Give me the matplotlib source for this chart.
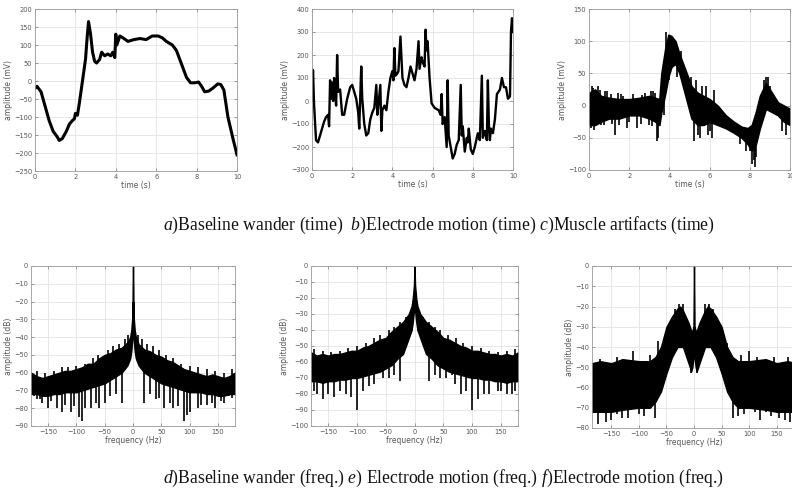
import numpy as np
import matplotlib
matplotlib.use("Agg")
import matplotlib.pyplot as plt

plt.rcParams['font.family'] = ['DejaVu Sans']
plt.rcParams['mathtext.fontset'] = 'custom'
plt.rcParams['mathtext.rm'] = 'Liberation Serif'
plt.rcParams['mathtext.it'] = 'Liberation Serif:italic'

# ---- a) baseline wander (time) ----
bw_t = [0, 0.1, 0.3, 0.5, 0.7, 0.9, 1.1, 1.2, 1.35, 1.55, 1.7, 1.85, 1.95, 2.0, 2.1,
        2.2, 2.35, 2.45, 2.5, 2.58, 2.65, 2.75, 2.85, 2.95, 3.05, 3.2, 3.3, 3.45, 3.6,
        3.75, 3.85, 3.95, 4.0, 4.05, 4.2, 4.35, 4.6, 4.9, 5.2, 5.5, 5.8, 6.1, 6.3, 6.5,
        6.8, 7.0, 7.3, 7.5, 7.7, 7.9, 8.1, 8.25, 8.4, 8.6, 8.8, 9.05, 9.2, 9.35, 9.55,
        9.8, 10.0]
bw_v = [-20, -15, -30, -70, -110, -140, -155, -165, -160, -140, -120, -110, -105, -90, -95,
        -60, 0, 40, 60, 120, 165, 130, 80, 55, 50, 60, 80, 70, 75,
        70, 80, 65, 130, 100, 125, 120, 110, 115, 118, 115, 125, 125, 120, 110,
        100, 85, 40, 10, -5, -5, -3, -15, -30, -28, -20, -8, -10, -25, -100,
        -160, -205]

# ---- b) electrode motion (time) ----
em_t = [0, 0.05, 0.1, 0.2, 0.3, 0.4, 0.5, 0.6, 0.7, 0.8, 0.85, 0.9, 0.95, 1.0, 1.05,
        1.1, 1.15, 1.2, 1.25, 1.3, 1.4, 1.5, 1.6, 1.75, 1.9, 2.0, 2.1, 2.2, 2.3, 2.35,
        2.45, 2.5, 2.6, 2.7, 2.8, 2.9, 3.0, 3.1, 3.2, 3.25, 3.3, 3.4, 3.45, 3.5, 3.6,
        3.7, 3.8, 3.9, 4.0, 4.05, 4.1, 4.15, 4.25, 4.3, 4.4, 4.5, 4.6, 4.7, 4.8, 4.9,
        5.0, 5.1, 5.2, 5.3, 5.35, 5.45, 5.5, 5.6, 5.65, 5.7, 5.75, 5.85, 5.95, 6.1, 6.3,
        6.4, 6.45, 6.5, 6.6, 6.7, 6.75, 6.8, 6.9, 7.0, 7.1, 7.2, 7.3, 7.4, 7.45, 7.5,
        7.6, 7.7, 7.75, 7.8, 7.9, 8.0, 8.1, 8.25, 8.35, 8.45, 8.5, 8.6, 8.7, 8.75, 8.8,
        8.85, 8.9, 9.0, 9.1, 9.2, 9.35, 9.45, 9.55, 9.65, 9.75, 9.85, 9.9, 9.95, 10.0]
em_v = [0, 135, -10, -170, -180, -150, -120, -90, -70, -60, -110, 90, 10, 80, 0,
        100, 30, -20, 200, 40, 50, -60, -60, 10, 60, 70, 40, 10, -50, -120,
        150, 10, -100, -150, -140, -80, -50, -30, 70, -60, -20, 70, -130, -40, -20,
        -40, 40, 100, 130, 90, 230, 110, 120, 130, 280, 100, 70, 60, 100, 150,
        120, 90, 140, 260, 140, 190, 170, 150, 310, 220, 260, 100, -10, -30, -40,
        -60, 30, -100, -70, -200, 90, -150, -200, -250, -230, -190, -170, 70, -150, -110,
        -220, -160, -180, -120, -210, -230, -200, -140, -170, 110, -160, -130, -170, 90, -100,
        -170, -120, -140, -80, 30, 50, 100, 60, 60, 10, 20, 300, 360, 300]

# ---- c) muscle artifacts (time): noisy band + spikes ----
ma_t = [0, 0.3, 0.6, 1.0, 1.5, 2.0, 2.5, 3.0, 3.3, 3.5, 3.6, 3.8, 3.95, 4.1, 4.3,
        4.5, 4.8, 5.1, 5.4, 5.7, 6.0, 6.4, 6.8, 7.2, 7.6, 7.9, 8.1, 8.3, 8.5, 8.8,
        9.1, 9.4, 9.7, 10.0]
ma_hi = [20, 25, 15, 12, 10, 10, 12, 15, 12, 10, 50, 90, 110, 108, 100,
         80, 55, 30, 20, 15, 10, 0, -15, -25, -33, -35, -30, -10, 15, 35,
         20, 5, 0, -5]
ma_lo = [-30, -30, -25, -20, -20, -15, -15, -20, -25, -30, -10, 20, 45, 60, 65,
         50, 15, -20, -30, -30, -25, -30, -35, -42, -50, -60, -70, -60, -35, -5,
         -10, -15, -25, -30]
ma_spk_t = [0.1, 0.15, 0.2, 0.25, 0.45, 0.55, 0.6, 0.75, 0.8, 0.9, 1.1, 1.15, 1.3, 1.45,
            1.5, 1.6, 1.7, 1.9, 2.0, 2.2, 2.4, 2.6, 2.65, 2.8, 3.0, 3.1, 3.15, 3.2,
            3.3, 3.4, 3.45, 3.75, 3.85, 4.0, 4.4, 4.6, 5.05, 5.2, 5.3, 5.4, 5.5, 5.6,
            5.8, 5.9, 6.0, 6.1, 6.2, 7.5, 7.8, 7.95, 8.0, 8.1, 8.2, 8.25, 8.3, 8.7,
            8.8, 8.9, 9.0, 9.6, 9.8]
ma_spk_v = [-35, 30, 28, -38, 30, 25, -30, -30, 22, 22, 18, -28, -45, 20,
            -30, 18, 15, -35, -25, 18, -35, -28, 17, 20, -30, 22, -32, 22,
            20, -55, -50, -15, 115, 40, 45, 85, 45, -55, 40, -45, -50, 30,
            30, -45, -40, -50, 25, -60, -70, -55, -70, -90, -85, -95, -80, 40,
            45, 45, 30, -40, -45]

# ---- d) baseline wander (freq.) ----
d_f = [-180, -170, -160, -150, -140, -130, -120, -110, -100, -90, -80, -70, -60, -50,
       -40, -30, -20, -10, -5, -3, -1, -0.5, 0, 0.5, 1, 3, 5, 10, 20, 30, 40, 50, 60,
       70, 80, 90, 100, 110, 120, 130, 140, 150, 160, 170, 180]
d_hi = [-60, -62, -63, -62, -61, -60, -59, -59, -58, -57, -55, -55, -52, -50,
        -49, -47, -46, -43, -40, -36, -28, -10, 0, -10, -28, -36, -40, -44, -47, -48, -50, -51, -53,
        -54, -56, -58, -59, -60, -61, -62, -61, -62, -63, -62, -60]
d_lo = [-72, -72, -73, -73, -72, -72, -71, -71, -71, -70, -69, -68, -67, -66,
        -64, -62, -60, -56, -52, -48, -40, -30, -20, -30, -40, -48, -52, -56, -60, -62, -64, -66, -67,
        -68, -69, -70, -71, -71, -71, -72, -72, -73, -73, -72, -72]
d_spk_f = [-175, -170, -165, -160, -150, -145, -135, -125, -120, -110, -105, -95, -90, -85,
           -75, -65, -60, -50, -40, -30, -20, 20, 30, 40, 45, 55, 65, 70, 80, 90,
           95, 100, 115, 120, 130, 140, 145, 155, 160, 170, 175,
           -170, -155, -140, -125, -115, -100, -85, -70, -62, -45, -35, -25, -15, -8,
           8, 15, 25, 35, 45, 58, 70, 85, 100, 115, 130, 145, 160, 175]
d_spk_v = [-73, -75, -75, -77, -80, -76, -80, -82, -78, -82, -79, -85, -87, -80,
           -80, -77, -80, -77, -73, -72, -77, -77, -72, -75, -74, -80, -77, -80, -79, -87,
           -84, -82, -80, -78, -78, -77, -80, -76, -77, -73, -74,
           -59, -60, -59, -57, -57, -56, -55, -52, -50, -47, -45, -44, -41, -39,
           -39, -41, -44, -45, -47, -50, -52, -55, -56, -57, -58, -59, -60, -58]

# ---- e) electrode motion (freq.) ----
e_f = [-180, -170, -160, -150, -140, -130, -120, -110, -100, -90, -80, -70, -60, -50,
       -40, -30, -20, -10, -5, -3, -1, 0, 1, 3, 5, 10, 20, 30, 40, 50, 60, 70, 80,
       90, 100, 110, 120, 130, 140, 150, 160, 170, 180]
e_hi = [-54, -56, -55, -56, -55, -55, -54, -53, -53, -51, -50, -48, -46, -45,
        -41, -38, -35, -30, -25, -20, -12, 0, -12, -20, -25, -30, -35, -38, -41, -45, -46, -48, -50,
        -51, -53, -53, -54, -55, -55, -56, -55, -56, -54]
e_lo = [-72, -72, -73, -72, -72, -71, -71, -70, -70, -69, -68, -67, -66, -64,
        -62, -58, -55, -45, -40, -35, -28, -20, -28, -35, -40, -45, -55, -58, -62, -64, -66, -67, -68,
        -69, -70, -70, -71, -71, -72, -72, -73, -72, -72]
e_spk_f = [-175, -170, -160, -150, -140, -130, -120, -110, -100, -90, -80, -70, -55, -45,
           -35, -25, 25, 35, 45, 55, 65, 70, 80, 90, 100, 110, 120, 130, 145, 150,
           160, 170, 175,
           -175, -160, -145, -130, -115, -100, -85, -70, -60, -45, -35, -25, -15,
           15, 25, 35, 45, 58, 72, 85, 100, 115, 130, 145, 160, 175]
e_spk_v = [-78, -80, -83, -80, -82, -78, -80, -82, -90, -78, -75, -74, -70, -70,
           -68, -72, -72, -68, -70, -70, -68, -74, -80, -78, -90, -83, -80, -80, -78, -78,
           -80, -80, -78,
           -52, -53, -54, -53, -51, -50, -48, -45, -43, -40, -38, -35, -32,
           -32, -35, -38, -40, -43, -45, -48, -50, -51, -53, -54, -53, -52]

# ---- f) electrode motion (freq.), right panel ----
f_f = [-185, -170, -150, -130, -100, -80, -70, -60, -50, -40, -30, -25, -20, -15, -10,
       -5, -3, -1, 0, 1, 3, 5, 10, 15, 20, 25, 30, 40, 50, 60, 70, 80, 100, 130,
       150, 170, 185]
f_hi = [-48, -47, -48, -46, -47, -47, -45, -40, -30, -25, -21, -20, -22, -25, -28,
        -32, -32, -30, 0, -30, -32, -32, -28, -25, -22, -20, -21, -25, -30, -40, -45, -47, -47, -46,
        -48, -47, -48]
f_lo = [-72, -72, -72, -71, -70, -70, -67, -62, -53, -45, -40, -40, -40, -44, -48,
        -52, -50, -45, -30, -45, -50, -52, -48, -44, -40, -40, -40, -45, -53, -62, -67, -70, -70, -71,
        -72, -72, -72]
f_spk_f = [-175, -160, -150, -140, -130, -120, -110, -100, -90, -80, -70, -65, -50, -35,
           -28, -20, -5, 5, 20, 28, 35, 60, 70, 80, 85, 90, 100, 110, 115, 120,
           130, 140, 145, 155, 165, 170, 175, -170, -140, -80]
f_spk_v = [-78, -77, -76, -73, -75, -75, -42, -73, -74, -70, -75, -37, -42, -21,
           -19, -19, -53, -53, -19, -19, -21, -38, -75, -74, -44, -73, -42, -72, -45, -76,
           -72, -74, -45, -75, -76, -45, -77, -46, -45, -44]

W, H = 792, 493
fig = plt.figure(figsize=(W / 100, H / 100), dpi=100)


def make_ax(l, t, r, b):
    return fig.add_axes([l / W, 1 - b / H, (r - l) / W, (b - t) / H])


def style(ax, xlabel, ylabel, xlim, ylim, xticks, yticks):
    ax.set_xlim(xlim)
    ax.set_ylim(ylim)
    ax.set_xticks(xticks)
    ax.set_yticks(yticks)
    ax.grid(True, color='#e3e3e3', linewidth=0.6)
    ax.set_axisbelow(True)
    ax.tick_params(direction='in', length=2, width=0.5, labelsize=4.8,
                   colors='#777777', labelcolor='#555555', pad=2, top=True, right=True)
    for s in ax.spines.values():
        s.set_color('#9a9a9a')
        s.set_linewidth(0.6)
    ax.set_xlabel(xlabel, fontsize=5.5, color='#555555', labelpad=1)
    ax.set_ylabel(ylabel, fontsize=5.5, color='#555555', labelpad=1)


tticks = [0, 2, 4, 6, 8, 10]
fticks = [-150, -100, -50, 0, 50, 100, 150]

ax = make_ax(35, 9, 237, 171)
ax.plot(bw_t, bw_v, color='black', lw=2.2, solid_joinstyle='round')
style(ax, 'time (s)', 'amplitude (mV)', (0, 10), (-250, 200), tticks, range(-250, 201, 50))

ax = make_ax(312, 9, 513, 170)
ax.plot(em_t, em_v, color='black', lw=1.7)
style(ax, 'time (s)', 'amplitude (mV)', (0, 10), (-300, 400), tticks, range(-300, 401, 100))

ax = make_ax(589, 9, 790, 170)
ax.fill_between(ma_t, ma_lo, ma_hi, color='black', lw=1.2, edgecolor='black')
mid = np.interp(ma_spk_t, ma_t, np.add(ma_hi, ma_lo) / 2)
ax.vlines(ma_spk_t, mid, ma_spk_v, color='black', lw=1.2)
style(ax, 'time (s)', 'amplitude (mV)', (0, 10), (-100, 150), tticks, range(-100, 151, 50))


def spectrum(ax, f, hi, lo, sf, sv):
    ax.fill_between(f, lo, hi, color='black', lw=1.0, edgecolor='black')
    mid = np.interp(sf, f, np.add(hi, lo) / 2)
    ax.vlines(sf, mid, sv, color='black', lw=1.2)


ax = make_ax(31, 266, 235, 426)
spectrum(ax, d_f, d_hi, d_lo, d_spk_f, d_spk_v)
style(ax, 'frequency (Hz)', 'amplitude (dB)', (-180, 180), (-90, 0), fticks, range(-90, 1, 10))

ax = make_ax(311, 266, 518, 426)
spectrum(ax, e_f, e_hi, e_lo, e_spk_f, e_spk_v)
style(ax, 'frequency (Hz)', 'amplitude (dB)', (-180, 180), (-100, 0), fticks, range(-100, 1, 10))

ax = make_ax(592, 266, 796, 428)
spectrum(ax, f_f, f_hi, f_lo, f_spk_f, f_spk_v)
style(ax, 'frequency (Hz)', 'amplitude (dB)', (-185, 185), (-80, 0), fticks, range(-80, 1, 10))

cap_kw = dict(fontsize=12.7, family='Liberation Serif', color='#111111', ha='left', va='center')
fig.text(163 / W, 1 - 225 / H, r'$a$)Baseline wander (time)  $b$)Electrode motion (time) $c$)Muscle artifacts (time)', **cap_kw)
fig.text(163 / W, 1 - 478 / H, r'$d$)Baseline wander (freq.) $e$) Electrode motion (freq.) $f$)Electrode motion (freq.)', **cap_kw)

fig.savefig('out.png', dpi=100)
